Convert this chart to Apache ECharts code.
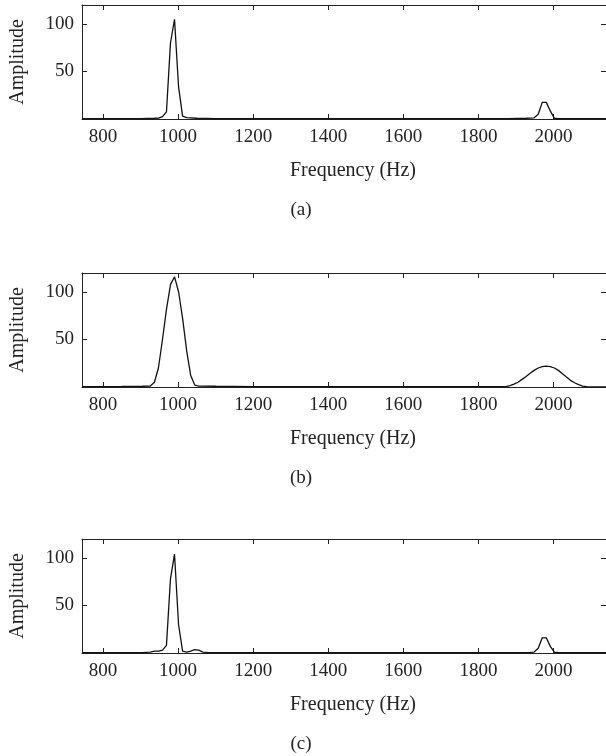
<!DOCTYPE html>
<html>
<head>
<meta charset="utf-8">
<script src="https://cdn.jsdelivr.net/npm/echarts@6/dist/echarts.min.js"></script>
<style>
  html, body { margin: 0; padding: 0; background: #fff; }
  #main { width: 606px; height: 756px; }
</style>
</head>
<body>
<div id="main"></div>
<script>
// tick values
var xTicks = [800, 1000, 1200, 1400, 1600, 1800, 2000]
var yTicks = [50, 100]

// (a) spectrum
var freqA = [744, 850, 900, 937, 948, 958.5, 969, 979.7, 990.5, 1001.2, 1012, 1023, 1050, 1100, 1300, 1500, 1700, 1880, 1927, 1937.9, 1948.6, 1959.4, 1970.1, 1980.9, 1991.6, 2002.4, 2013, 2060, 2140]
var ampA = [0.3, 0.3, 0.5, 0.8, 1, 2.5, 7.5, 80, 105, 34, 3, 1.5, 0.8, 0.5, 0.4, 0.4, 0.4, 0.5, 0.8, 1, 1.2, 5, 17.5, 17.5, 8.5, 0.8, 0.5, 0.3, 0.3]

// (b) spectrum
var freqB = [744, 850, 905, 926.1, 936.9, 947.6, 958.4, 969.1, 979.9, 990.6, 1001.4, 1012.1, 1022.9, 1033.6, 1044.4, 1055.1, 1100, 1200, 1400, 1600, 1800, 1862.6,
  1873.3, 1884, 1894.8, 1905.6, 1916.4, 1927.1, 1937.9, 1948.6, 1959.4, 1970.1, 1980.9, 1991.6, 2002.4, 2013.1, 2023.9, 2034.6, 2045.4, 2056.1, 2066.9, 2077.6, 2088.4, 2099.1, 2140]
var ampB = [0.5, 0.6, 0.8, 1, 5, 20, 50, 82, 108, 116, 100, 72, 38, 12, 2, 1, 0.8, 0.5, 0.4, 0.4, 0.4, 0.4,
  0.5, 1.5, 3, 5, 8, 11, 14.5, 17.5, 20, 21.5, 22, 21.5, 20, 17.5, 14, 10.5, 7, 4.5, 2.5, 1, 0.3, 0.2, 0.2]

// (c) spectrum
var freqC = [744, 850, 905, 926, 937, 948, 958.5, 969, 979.7, 990.5, 1001.2, 1012, 1023, 1033.5, 1044.3, 1055, 1065.8, 1080, 1200, 1500, 1800, 1900, 1937.9, 1948.6, 1959.4, 1970.1, 1980.9, 1991.6, 2002.4, 2013, 2140]
var ampC = [0.3, 0.3, 0.5, 1, 2, 2, 3, 8, 78, 104, 30, 2, 1, 2, 3.5, 3, 1, 0.4, 0.3, 0.3, 0.3, 0.4, 0.6, 1, 5, 16, 16, 7, 0.8, 0.4, 0.3]

var panels = [
  { f: freqA, a: ampA, top: 5, tag: '(a)' },
  { f: freqB, a: ampB, top: 273, tag: '(b)' },
  { f: freqC, a: ampC, top: 539, tag: '(c)' }
]

var font = 'Liberation Serif'
var ink = '#222'
var plotH = 114

var grid = []
var xAxis = []
var yAxis = []
var series = []
var graphic = []

function plain(v) { return String(v) }

panels.forEach(function (p, i) {
  grid.push({ left: 79, top: p.top, width: 528, height: plotH })
  var lineSt = { show: true, onZero: false, lineStyle: { color: ink, width: 1 } }
  var tickSt = { color: ink, width: 1 }
  // bottom axis with labels
  xAxis.push({
    type: 'value', gridIndex: i, min: 744, max: 2140, position: 'bottom',
    axisLine: lineSt,
    axisTick: { inside: true, length: 5, customValues: xTicks, lineStyle: tickSt },
    axisLabel: { customValues: xTicks, formatter: plain, margin: 9, fontFamily: font, fontSize: 19, color: ink },
    splitLine: { show: false }
  })
  // top axis, ticks only
  xAxis.push({
    type: 'value', gridIndex: i, min: 744, max: 2140, position: 'top',
    axisLine: lineSt,
    axisTick: { inside: true, length: 5, customValues: xTicks, lineStyle: tickSt },
    axisLabel: { show: false },
    splitLine: { show: false }
  })
  yAxis.push({
    type: 'value', gridIndex: i, min: 0, max: 120, position: 'left',
    name: 'Amplitude', nameLocation: 'middle', nameGap: 54, nameRotate: 90,
    nameTextStyle: { fontFamily: font, fontSize: 20, color: ink },
    axisLine: lineSt,
    axisTick: { inside: true, length: 5, customValues: yTicks, lineStyle: tickSt },
    axisLabel: { customValues: yTicks, formatter: plain, margin: 8, fontFamily: font, fontSize: 19, color: ink },
    splitLine: { show: false }
  })
  yAxis.push({
    type: 'value', gridIndex: i, min: 0, max: 120, position: 'right',
    axisLine: lineSt,
    axisTick: { inside: true, length: 5, customValues: yTicks, lineStyle: tickSt },
    axisLabel: { show: false },
    splitLine: { show: false }
  })
  series.push({
    type: 'line',
    xAxisIndex: i * 2,
    yAxisIndex: i * 2,
    data: p.f.map(function (f, k) { return [f, p.a[k]] }),
    showSymbol: false,
    lineStyle: { color: '#111', width: 1.3 },
    silent: true,
    animation: false
  })
  graphic.push({
    type: 'text', x: 353, y: p.top + 166,
    style: { text: 'Frequency (Hz)', font: '20px "' + font + '"', fill: ink, align: 'center', verticalAlign: 'middle', textAlign: 'center', textVerticalAlign: 'middle' }
  })
  graphic.push({
    type: 'text', x: 301, y: p.top + 205,
    style: { text: p.tag, font: '19px "' + font + '"', fill: ink, align: 'center', verticalAlign: 'middle', textAlign: 'center', textVerticalAlign: 'middle' }
  })
})

var myChart = echarts.init(document.getElementById('main'))
myChart.setOption({
  animation: false,
  grid: grid,
  xAxis: xAxis,
  yAxis: yAxis,
  series: series,
  graphic: graphic
})
</script>
</body>
</html>
